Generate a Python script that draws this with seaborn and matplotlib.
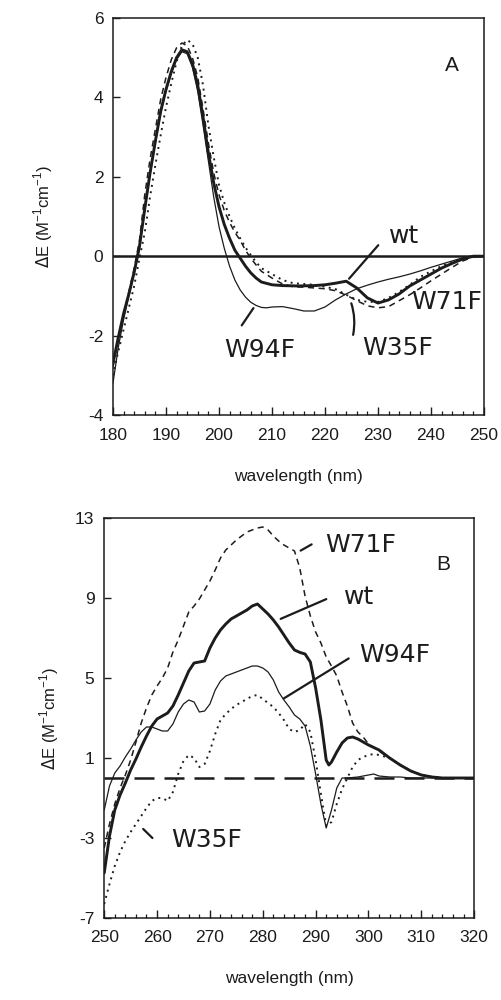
import numpy as np
import pandas as pd
import matplotlib
matplotlib.use("Agg")
import matplotlib.pyplot as plt
import seaborn as sns

# ---------------- Panel A data (far-UV CD) ----------------
a_wt_x = [180,181,182,183,184,185,186,187,188,189,190,191,192,193,194,195,196,197,198,199,
          200,201,202,203,204,205,206,207,208,210,212,215,218,220,222,224,226,228,230,232,
          234,236,238,240,242,244,246,248,250]
a_wt_y = [-2.7,-2.05,-1.45,-0.95,-0.4,0.25,1.2,2.1,2.9,3.65,4.2,4.65,5.0,5.2,5.15,4.85,4.3,3.5,2.6,1.85,
          1.25,0.8,0.45,0.15,-0.05,-0.25,-0.42,-0.55,-0.65,-0.72,-0.74,-0.75,-0.74,-0.72,-0.68,-0.63,-0.8,-1.05,-1.18,-1.1,
          -0.95,-0.75,-0.6,-0.45,-0.3,-0.18,-0.07,0.0,0.0]

a_w94f_x = [180,181,182,183,184,185,186,187,188,189,190,191,192,193,194,195,196,197,198,199,
            200,201,202,203,204,205,206,207,208,209,210,212,214,216,218,220,222,224,226,228,
            230,232,234,236,238,240,242,244,246,248,250]
a_w94f_y = [-3.2,-2.3,-1.6,-1.0,-0.45,0.2,1.15,2.05,2.85,3.6,4.15,4.6,4.95,5.15,5.1,4.75,4.15,3.3,2.4,1.5,
            0.75,0.2,-0.25,-0.6,-0.85,-1.03,-1.16,-1.24,-1.29,-1.3,-1.28,-1.27,-1.32,-1.38,-1.38,-1.28,-1.1,-0.95,-0.82,-0.73,
            -0.65,-0.58,-0.52,-0.45,-0.37,-0.28,-0.2,-0.12,-0.04,0.0,0.0]

a_w35f_x = [180,181,182,183,184,185,186,187,188,189,190,191,192,193,194,195,196,197,198,199,
            200,201,202,203,204,205,206,207,208,210,212,214,216,218,220,222,224,226,228,230,
            232,234,236,238,240,242,244,246,248,250]
a_w35f_y = [-3.0,-2.4,-1.85,-1.3,-0.75,-0.05,0.6,1.5,2.3,3.05,3.75,4.35,4.9,5.3,5.45,5.35,5.0,4.3,3.3,2.5,
            1.8,1.35,1.0,0.7,0.45,0.22,0.03,-0.15,-0.3,-0.45,-0.6,-0.68,-0.7,-0.72,-0.77,-0.83,-0.97,-1.1,-1.15,-1.15,
            -1.05,-0.9,-0.72,-0.52,-0.38,-0.25,-0.14,-0.05,0.0,0.0]

a_w71f_x = [180,181,182,183,184,185,186,187,188,189,190,191,192,193,194,195,196,197,198,199,
            200,201,202,203,204,205,206,207,208,210,212,214,216,218,220,222,224,226,228,230,
            232,234,236,238,240,242,244,246,248,250]
a_w71f_y = [-2.8,-2.1,-1.45,-0.9,-0.3,0.4,1.55,2.45,3.2,3.95,4.5,4.95,5.25,5.37,5.3,5.0,4.5,3.7,2.85,2.1,
            1.55,1.15,0.85,0.6,0.4,0.15,-0.05,-0.22,-0.38,-0.55,-0.7,-0.77,-0.78,-0.8,-0.82,-0.87,-0.98,-1.12,-1.25,-1.3,
            -1.27,-1.12,-0.97,-0.8,-0.62,-0.45,-0.28,-0.12,-0.02,0.0]

# ---------------- Panel B data (near-UV CD) ----------------
b_wt_x = [250,251,252,253,254,255,256,257,258,259,260,261,262,263,264,265,266,267,268,269,
          270,271,272,273,274,275,276,277,278,279,280,281,282,283,284,285,286,287,288,289,
          290,291,292,292.5,293,294,295,296,297,298,299,300,302,304,306,308,310,312,314,316,318,320]
b_wt_y = [-4.75,-2.9,-1.6,-0.85,-0.25,0.4,0.95,1.55,2.1,2.6,2.95,3.1,3.25,3.6,4.15,4.75,5.35,5.75,5.8,5.85,
          6.5,7.0,7.4,7.7,7.95,8.1,8.25,8.4,8.6,8.7,8.45,8.2,7.9,7.55,7.15,6.75,6.4,6.28,6.2,5.8,
          4.5,2.9,0.9,0.65,0.8,1.3,1.75,2.0,2.05,1.95,1.8,1.65,1.4,1.0,0.65,0.35,0.15,0.05,0.0,0.0,0.0,0.0]

b_w94f_x = [250,251,252,253,254,255,256,257,258,259,260,261,262,263,264,265,266,267,268,269,
            270,271,272,273,274,275,276,277,278,279,280,281,282,283,284,285,286,287,288,289,
            290,291,292,293,294,295,296,298,300,301,302,304,306,308,310,315,320]
b_w94f_y = [-1.6,-0.4,0.25,0.6,1.05,1.45,1.9,2.3,2.55,2.55,2.45,2.35,2.35,2.7,3.3,3.7,3.9,3.8,3.3,3.35,
            3.7,4.4,4.85,5.1,5.2,5.3,5.4,5.5,5.6,5.6,5.5,5.3,4.9,4.3,3.9,3.55,3.15,2.95,2.6,1.6,
            0.2,-1.3,-2.5,-1.6,-0.5,0.0,0.0,0.05,0.15,0.2,0.1,0.05,0.05,0.0,0.0,0.0,0.0]

b_w35f_x = [250,251,252,253,254,255,256,257,258,259,260,261,262,263,264,265,266,267,268,269,
            270,271,272,273,274,275,276,277,278,279,280,281,282,283,284,285,286,287,288,289,
            290,291,292,293,294,295,296,297,298,299,300,301,302,304,306,308,310,312,314,320]
b_w35f_y = [-6.3,-5.3,-4.4,-3.7,-3.15,-2.7,-2.3,-1.9,-1.5,-1.15,-1.0,-1.0,-1.15,-0.7,0.2,0.85,1.15,1.0,0.55,0.7,
            1.35,2.2,2.9,3.2,3.45,3.65,3.8,3.95,4.1,4.15,3.95,3.75,3.55,3.25,2.9,2.45,2.3,2.4,2.7,2.3,
            0.9,-0.8,-2.4,-2.2,-1.3,-0.55,0.0,0.55,0.9,1.05,1.15,1.2,1.15,1.0,0.65,0.35,0.15,0.05,0.0,0.0]

b_w71f_x = [250,251,252,253,254,255,256,257,258,259,260,261,262,263,264,265,266,267,268,269,
            270,271,272,273,274,275,276,277,278,279,280,281,282,283,284,285,286,287,288,289,
            290,291,292,293,294,295,296,297,298,299,300,302,304,306,308,310,312,314,320]
b_w71f_y = [-3.5,-2.3,-1.3,-0.5,0.15,0.9,1.8,2.75,3.5,4.15,4.6,5.0,5.5,6.3,6.9,7.6,8.3,8.6,8.95,9.4,
            9.85,10.4,11.0,11.4,11.65,11.9,12.1,12.3,12.4,12.5,12.55,12.4,12.1,11.85,11.65,11.5,11.35,10.5,9.1,8.1,
            7.3,6.75,6.05,5.6,5.1,4.3,3.6,2.75,2.3,2.05,1.7,1.35,1.0,0.65,0.35,0.15,0.05,0.0,0.0]

a_xticks = [180, 190, 200, 210, 220, 230, 240, 250]
a_yticks = [-4, -2, 0, 2, 4, 6]
b_xticks = [250, 260, 270, 280, 290, 300, 310, 320]
b_yticks = [-7, -3, 1, 5, 9, 13]

# ---------------- Styling ----------------
sns.set_style("ticks")
plt.rcParams['font.family'] = ['Liberation Sans', 'DejaVu Sans']
plt.rcParams['axes.unicode_minus'] = False
INK = "#1c1c1c"

styles = {
    "wt":   dict(color=INK, lw=2.1, linestyle="-"),
    "W94F": dict(color=INK, lw=0.9, linestyle="-"),
    "W35F": dict(color=INK, lw=1.4, linestyle=(0, (1, 2.3))),
    "W71F": dict(color=INK, lw=1.1, linestyle=(0, (4, 3))),
}

fig = plt.figure(figsize=(5.01, 10.0), dpi=100)
fig.patch.set_facecolor("white")
axA = fig.add_axes([0.2255, 0.585, 0.7405, 0.397])
axB = fig.add_axes([0.2080, 0.082, 0.7385, 0.400])

def draw(ax, series):
    for name, xs, ys in series:
        df = pd.DataFrame({"wavelength": xs, "dE": ys})
        sns.lineplot(data=df, x="wavelength", y="dE", ax=ax, sort=False,
                     estimator=None, legend=False, **styles[name])

draw(axA, [("W71F", a_w71f_x, a_w71f_y), ("W35F", a_w35f_x, a_w35f_y),
           ("W94F", a_w94f_x, a_w94f_y), ("wt", a_wt_x, a_wt_y)])
draw(axB, [("W71F", b_w71f_x, b_w71f_y), ("W35F", b_w35f_x, b_w35f_y),
           ("W94F", b_w94f_x, b_w94f_y), ("wt", b_wt_x, b_wt_y)])

axA.axhline(0, color=INK, lw=1.8, zorder=1)
axB.axhline(0, color=INK, lw=1.8, linestyle=(0, (8, 4)), zorder=1)

axA.set_xlim(180, 250)
axA.set_ylim(-4, 6)
axB.set_xlim(250, 320)
axB.set_ylim(-7, 13)

for ax, xt, yt in [(axA, a_xticks, a_yticks), (axB, b_xticks, b_yticks)]:
    ax.set_xticks(xt)
    ax.set_xticks(np.arange(xt[0], xt[-1] + 1, 2), minor=True)
    ax.set_yticks(yt)
    ax.tick_params(axis="x", which="major", direction="in", length=6, width=1.0,
                   labelsize=12.5, pad=9, colors=INK, bottom=True, top=False)
    ax.tick_params(axis="x", which="minor", direction="in", length=3, width=0.9,
                   bottom=True, top=False, colors=INK)
    ax.tick_params(axis="y", which="major", direction="in", length=5, width=1.0,
                   labelsize=12.5, pad=7, colors=INK, left=True, right=False)
    ax.tick_params(axis="y", which="minor", left=False, right=False)
    for sp in ax.spines.values():
        sp.set_visible(True)
        sp.set_color(INK)
        sp.set_linewidth(1.1)
    ax.set_xlabel("wavelength (nm)", fontsize=12.5, color=INK)
    ax.set_ylabel(r"$\Delta$E (M$^{\mathregular{-1}}$cm$^{\mathregular{-1}}$)", fontsize=12, color=INK)

axA.xaxis.set_label_coords(0.5, -0.135)
axB.xaxis.set_label_coords(0.5, -0.133)
axA.yaxis.set_label_coords(-0.155, 0.5)
axB.yaxis.set_label_coords(-0.118, 0.5)

# ---------------- Annotations ----------------
hand = dict(fontsize=18, color=INK, ha="center", va="center", family="DejaVu Sans")
lead = dict(arrowstyle="-", color=INK, lw=1.6)

axA.text(244.0, 4.8, "A", fontsize=15, color=INK, ha="center", va="center")
axA.annotate("", xy=(224.2, -0.62), xytext=(230.4, 0.33), arrowprops=lead)
axA.text(235.0, 0.5, "wt", **hand)
axA.text(243.0, -1.15, "W71F", **hand)
axA.annotate("", xy=(206.8, -1.25), xytext=(204.0, -1.8), arrowprops=lead)
axA.text(207.6, -2.36, "W94F", **hand)
axA.annotate("", xy=(224.8, -1.12), xytext=(225.2, -2.05),
             arrowprops=dict(arrowstyle="-", color=INK, lw=1.6, connectionstyle="arc3,rad=0.15"))
axA.text(233.8, -2.3, "W35F", **hand)

axB.text(314.1, 10.65, "B", fontsize=15, color=INK, ha="center", va="center")
axB.annotate("", xy=(286.7, 11.3), xytext=(289.7, 11.75), arrowprops=lead)
axB.text(298.5, 11.65, "W71F", **hand)
axB.annotate("", xy=(282.9, 7.9), xytext=(292.5, 9.0), arrowprops=lead)
axB.text(298.3, 9.05, "wt", **hand)
axB.annotate("", xy=(283.5, 3.9), xytext=(296.7, 6.05), arrowprops=lead)
axB.text(305.0, 6.15, "W94F", **hand)
axB.annotate("", xy=(257.0, -2.45), xytext=(259.5, -3.1), arrowprops=lead)
axB.text(269.3, -3.1, "W35F", **hand)

fig.savefig("out.png", dpi=100, facecolor="white")
